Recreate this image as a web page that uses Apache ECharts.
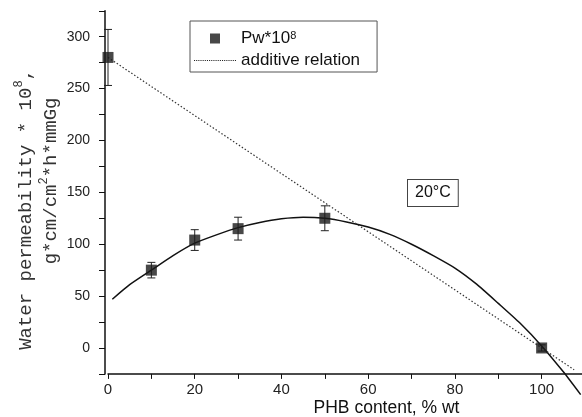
<!DOCTYPE html>
<html><head><meta charset="utf-8">
<script src="https://cdn.jsdelivr.net/npm/echarts@6/dist/echarts.min.js"></script>
<style>html,body{margin:0;padding:0;background:#fff}#c{width:582px;height:417px}</style>
</head><body><div id="c"></div>
<script>
// measured data points (PHB content %, Pw*10^8) with error bar half-widths
const pwX = [0, 10, 20, 30, 50, 100];
const pwY = [280, 75, 104, 115, 125, 0];
const pwErr = [27, 7.5, 10, 11, 12, 3];
// additive relation (dotted straight line)
const additiveX = [0, 100, 107.5];
const additiveY = [280, 0, -21];
// fitted curve, points
const fitX = [1, 5, 10, 15, 20, 25, 30, 35, 40, 45, 50, 55, 60, 65, 70, 75, 80, 85, 90, 95, 100, 105, 109];
const fitY = [47, 61, 75, 89, 101, 109, 116, 121, 124.5, 126, 125, 121.5, 116.5, 109.5, 100, 89, 77, 61.5, 43, 24, 2, -23, -45];
// tick labels
const xTickLabels = [0, 20, 40, 60, 80, 100];
const yTickLabels = [0, 50, 100, 150, 200, 250, 300];

const SANS = "'Liberation Sans', Arial, sans-serif";
const MONO = "'Liberation Mono', 'Courier New', monospace";

const chart = echarts.init(document.getElementById('c'), null, {renderer: 'canvas'});

let dots = '';
for (let i = 0; i < 20; i++) dots += 'M' + (i * 2) + ',0h1v1h-1Z';

const option = {
  animation: false,
  backgroundColor: '#fff',
  grid: {left: 108, right: -3, top: 10.75, bottom: 43.1, containLabel: false, outerBoundsMode: 'none'},
  legend: {
    orient: 'vertical', left: 190, top: 21,
    itemWidth: 42, itemHeight: 10, itemGap: 5,
    padding: [9, 17, 3, 4],
    borderColor: '#555', borderWidth: 1,
    data: [
      {name: 'Pw', icon: 'path://M0,0L10,0L10,10L0,10Z'},
      {name: 'additive relation', icon: 'path://' + dots}
    ],
    formatter: function (n) { return n === 'Pw' ? '{t|Pw*10}{s|8}' : '{t|additive relation}'; },
    textStyle: {
      color: '#111', fontFamily: SANS, fontSize: 17,
      rich: {
        t: {fontSize: 17, fontFamily: SANS, color: '#111'},
        s: {fontSize: 11, fontFamily: SANS, color: '#111', verticalAlign: 'top'}
      }
    }
  },
  xAxis: {
    type: 'value', min: 0, max: 110, interval: 10,
    name: 'PHB content, % wt', nameLocation: 'middle', nameGap: 25, nameMoveOverlap: false,
    nameTextStyle: {fontFamily: SANS, fontSize: 17.5, color: '#111', padding: [0, 0, 0, 80]},
    axisLine: {show: true, onZero: false, lineStyle: {color: '#111', width: 1.5}},
    axisTick: {show: true, inside: false, length: 5, lineStyle: {color: '#111', width: 1}},
    axisLabel: {
      margin: 8, fontFamily: SANS, fontSize: 15, color: '#222',
      formatter: function (v) { return xTickLabels.indexOf(v) >= 0 ? String(v) : ''; }
    },
    splitLine: {show: false}
  },
  yAxis: {
    type: 'value', min: -25, max: 325, interval: 25, offset: 3,
    name: '{a|Water permeability * 10}{s|8}{a|,   }\n{a|  g*cm/cm}{s|2}{a|*h*mmGg}',
    nameLocation: 'middle', nameGap: 42, nameRotate: 90, nameMoveOverlap: false,
    nameTextStyle: {
      fontFamily: MONO, fontSize: 19, color: '#333', lineHeight: 25,
      rich: {
        a: {fontFamily: MONO, fontSize: 19, color: '#333', lineHeight: 25},
        s: {fontFamily: MONO, fontSize: 12, color: '#333', verticalAlign: 'top', lineHeight: 25}
      }
    },
    axisLine: {show: true, onZero: false, lineStyle: {color: '#111', width: 1.5}},
    axisTick: {show: true, inside: false, length: 6, lineStyle: {color: '#111', width: 1}},
    axisLabel: {
      margin: 15, fontFamily: SANS, fontSize: 14, color: '#222',
      formatter: function (v) { return yTickLabels.indexOf(v) >= 0 ? String(v) : ''; }
    },
    splitLine: {show: false}
  },
  graphic: [{
    type: 'text', left: 407, top: 179, z: 10,
    style: {
      text: '20°C', font: '16px ' + SANS, fill: '#111',
      borderColor: '#444', borderWidth: 1, padding: [5, 7, 5, 7], backgroundColor: '#fff'
    }
  }],
  series: [
    {
      name: 'fit', type: 'line', data: fitX.map((x, i) => [x, fitY[i]]),
      smooth: 0.2, symbol: 'none', clip: false, z: 2,
      lineStyle: {color: '#111', width: 1.5}, itemStyle: {color: '#111'}
    },
    {
      name: 'additive relation', type: 'line', data: additiveX.map((x, i) => [x, additiveY[i]]),
      symbol: 'none', clip: false, z: 2,
      lineStyle: {color: '#333', width: 1.2, type: [1.5, 2]}, itemStyle: {color: '#222'}
    },
    {
      name: 'err', type: 'custom', clip: false, silent: true, z: 3,
      data: pwX.map((x, i) => [x, pwY[i] - pwErr[i], pwY[i] + pwErr[i]]),
      encode: {x: 0, y: [1, 2]},
      renderItem: function (params, api) {
        const x = api.value(0);
        const lo = api.coord([x, api.value(1)]);
        const hi = api.coord([x, api.value(2)]);
        const hw = 4;
        const st = {stroke: '#222', lineWidth: 1};
        return {type: 'group', children: [
          {type: 'line', shape: {x1: lo[0], y1: lo[1], x2: hi[0], y2: hi[1]}, style: st},
          {type: 'line', shape: {x1: lo[0] - hw, y1: lo[1], x2: lo[0] + hw, y2: lo[1]}, style: st},
          {type: 'line', shape: {x1: hi[0] - hw, y1: hi[1], x2: hi[0] + hw, y2: hi[1]}, style: st}
        ]};
      }
    },
    {
      name: 'Pw', type: 'scatter', data: pwX.map((x, i) => [x, pwY[i]]),
      symbol: 'rect', symbolSize: 11, clip: false, z: 4,
      itemStyle: {color: '#1a1a1a'}
    }
  ]
};
chart.setOption(option);
</script>
</body></html>
